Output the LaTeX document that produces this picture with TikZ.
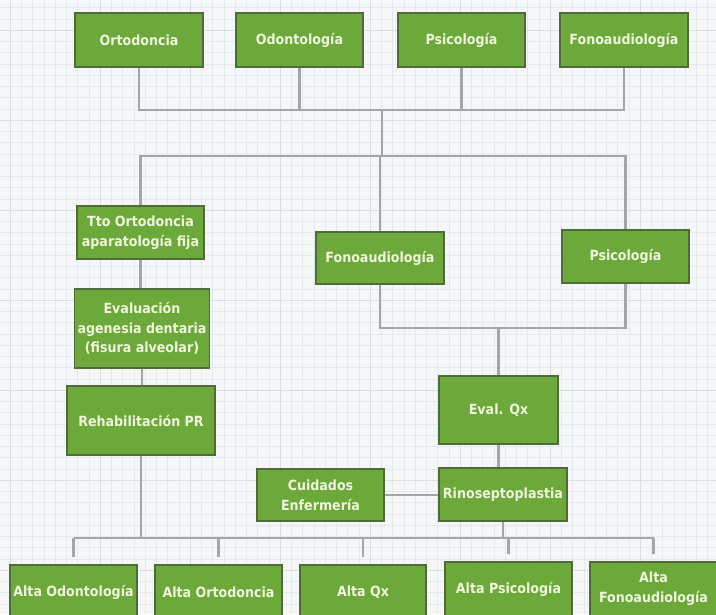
\documentclass[tikz,border=0pt]{standalone}
\usepackage{fontspec}
\setmainfont{DejaVu Sans Condensed}
\usetikzlibrary{positioning}

\definecolor{paper}{HTML}{F4F6F8}
\definecolor{gridmin}{HTML}{E4E9EE}
\definecolor{gridmaj}{HTML}{D6DDE4}
\definecolor{boxgreen}{HTML}{6CA83A}
\definecolor{boxline}{HTML}{4F6B3A}
\definecolor{boxtext}{HTML}{F0F6DC}
\definecolor{linegray}{HTML}{A3A6A8}

\begin{document}
\begin{tikzpicture}[
    x=0.25mm, y=-0.25mm,
    unitbox/.style={draw=boxline, line width=1pt, fill=boxgreen, text=boxtext,
        font=\fontsize{10}{14}\selectfont\bfseries, align=center,
        minimum width=128*0.25mm, minimum height=54*0.25mm, inner sep=2pt},
    conn/.style={draw=linegray, line width=2pt}
]
\useasboundingbox (0,0) rectangle (716,614);
\clip (0,0) rectangle (716,614);

% Grid paper
\fill[paper] (0,0) rectangle (716,614);
\foreach \x in {-1.25,10,...,716} \draw[gridmin, line width=0.3pt] (\x,0) -- (\x,614);
\foreach \y in {7.5,18.75,...,614} \draw[gridmin, line width=0.3pt] (0,\y) -- (716,\y);
\foreach \x in {10,100,...,710} \draw[gridmaj, line width=0.6pt] (\x,0) -- (\x,614);
\foreach \y in {30,120,...,610} \draw[gridmaj, line width=0.6pt] (0,\y) -- (716,\y);

% Top row
\node[unitbox] (ortoT) at (139,40) {Ortodoncia};
\node[unitbox, minimum width=127*0.25mm] (odontoT) at (299.5,40) {Odontología};
\node[unitbox, minimum width=127*0.25mm] (psicoT) at (461.5,40) {Psicología};
\node[unitbox] (fonoT) at (624,40) {Fonoaudiología};

% Second level
\node[unitbox, minimum width=127*0.25mm, minimum height=53*0.25mm] (tto) at (140.5,232.5) {Tto Ortodoncia\\aparatología fija};
\node[unitbox, minimum height=52*0.25mm] (fonoM) at (380,258) {Fonoaudiología};
\node[unitbox, minimum width=127*0.25mm, minimum height=53*0.25mm] (psicoM) at (625.5,256.5) {Psicología};

% Left branch
\node[unitbox, minimum height=79*0.25mm] (eval) at (142,328.5) {Evaluación\\agenesia dentaria\\(fisura alveolar)};
\node[unitbox, minimum width=148*0.25mm, minimum height=69*0.25mm] (rehab) at (141,420.5) {Rehabilitación PR};

% Right branch
\node[unitbox, minimum width=119*0.25mm, minimum height=68*0.25mm] (evalqx) at (498.5,410) {Eval. Qx};
\node[unitbox, minimum height=53*0.25mm] (rino) at (503,494.5) {Rinoseptoplastia};
\node[unitbox, minimum width=127*0.25mm, minimum height=52*0.25mm] (cuidados) at (320.5,495) {Cuidados\\Enfermería};

% Discharge row
\node[unitbox, minimum width=127*0.25mm] (altaOdonto) at (73.5,592) {Alta Odontología};
\node[unitbox, minimum width=127*0.25mm] (altaOrto) at (218.5,592) {Alta Ortodoncia};
\node[unitbox, minimum width=126*0.25mm] (altaQx) at (363,592) {Alta Qx};
\node[unitbox, minimum width=127*0.25mm] (altaPsico) at (508.5,589) {Alta Psicología};
\node[unitbox, minimum width=127*0.25mm] (altaFono) at (653.5,589) {Alta\\Fonoaudiología};

% Buses
\coordinate (bus1) at (382,110);
\coordinate (bus2) at (382,156);
\coordinate (bus3) at (498.5,328);
\coordinate (bus4) at (300,538);

% Connectors
\draw[conn] (ortoT.south) |- (fonoT.south |- bus1) -- (fonoT.south);
\draw[conn] (odontoT.south) -- (odontoT.south |- bus1);
\draw[conn] (psicoT.south) -- (psicoT.south |- bus1);
\draw[conn] (bus1) -- (bus2);
\draw[conn] (tto.north) |- (bus2) -| (psicoM.north);
\draw[conn] (fonoM.north) -- (fonoM.north |- bus2);

\draw[conn] (tto.south) -- (tto.south |- eval.north);
\draw[conn] (eval.south) -- (eval.south |- rehab.north);

\draw[conn] (fonoM.south) |- (bus3) -| (psicoM.south);
\draw[conn] (bus3) -- (evalqx.north);
\draw[conn] (evalqx.south) -- (evalqx.south |- rino.north);
\draw[conn] (cuidados.east) -- (cuidados.east -| rino.west);

\draw[conn] (rehab.south) -- (rehab.south |- bus4);
\draw[conn] (rino.south) -- (rino.south |- bus4);
\draw[conn] (altaOdonto.north |- bus4) -- (altaFono.north |- bus4);
\foreach \n in {altaOdonto,altaOrto,altaQx,altaPsico,altaFono}
    \draw[conn, shorten >=5pt] (\n.north |- bus4) -- (\n.north);

\end{tikzpicture}
\end{document}
